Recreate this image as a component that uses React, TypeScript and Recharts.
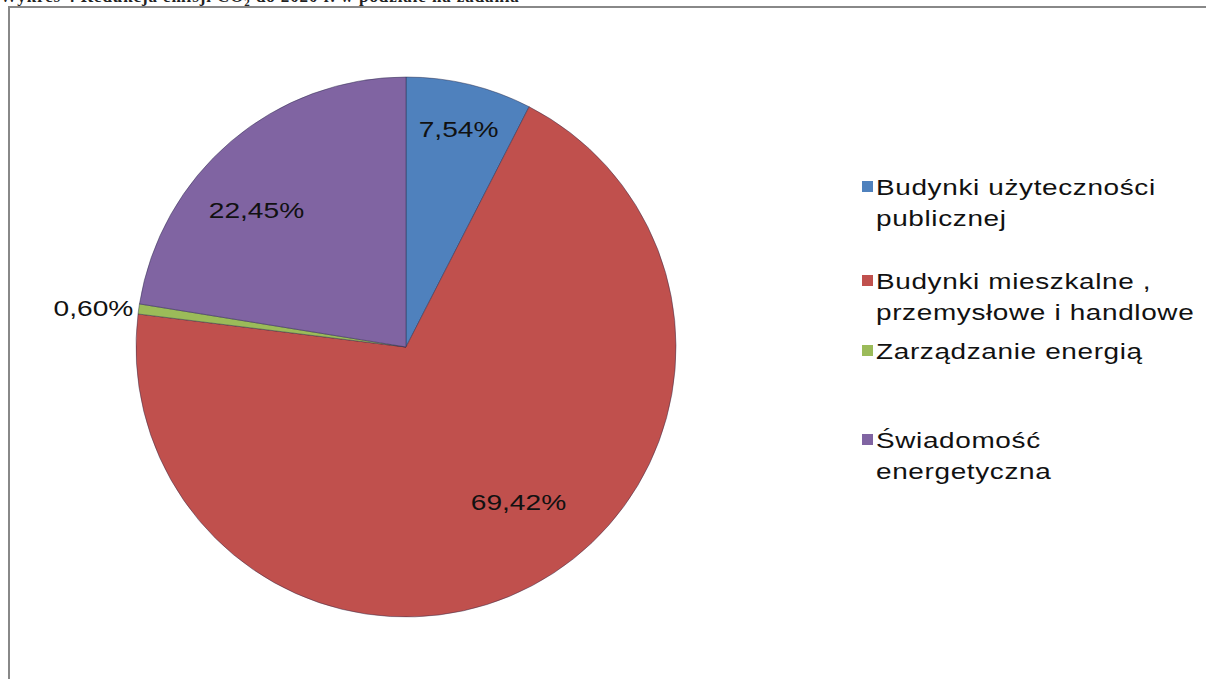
import React from "react";
import { PieChart, Pie, Cell } from "recharts";

const categories = [
  "Budynki użyteczności publicznej",
  "Budynki mieszkalne , przemysłowe i handlowe",
  "Zarządzanie energią",
  "Świadomość energetyczna",
];
const values = [7.54, 69.42, 0.6, 22.45];
const valueLabels = ["7,54%", "69,42%", "0,60%", "22,45%"];
const legendLines = [
  ["Budynki użyteczności", "publicznej"],
  ["Budynki mieszkalne ,", "przemysłowe i handlowe"],
  ["Zarządzanie energią"],
  ["Świadomość", "energetyczna"],
];
const colors = ["#4F81BD", "#C0504D", "#9BBB59", "#8064A2"];
const titleText = "Wykres 4 Redukcja emisji CO";
const titleRest = " do 2020 r. w podziale na zadania";

// label placement styling (radius factor, angle shift, anchor)
const labelRadius = [0.83, 0.71, 1.02, 0.75];
const labelAngleShift = [0, 8, 0, 7.2];
const labelAnchor = ["middle", "middle", "end", "middle"];
// legend entry first-line offsets (px from legend top)
const legendEntryTop = [0, 94, 164, 253];

const data = categories.map((name, i) => ({ name, value: values[i] }));

const RADIAN = Math.PI / 180;
const FONT = "'Liberation Sans', Arial, sans-serif";
const STRETCH = 1.28;

const renderLabel = (props: any) => {
  const { cx, cy, midAngle, outerRadius, index } = props;
  const a = (midAngle + labelAngleShift[index]) * RADIAN;
  const r = outerRadius * labelRadius[index];
  const x = cx + r * Math.cos(-a);
  const y = cy + r * Math.sin(-a);
  return (
    <text
      transform={`translate(${x},${y}) scale(${STRETCH},1)`}
      x={0}
      y={0}
      textAnchor={labelAnchor[index] as any}
      dominantBaseline="central"
      fill="#111"
      fontSize={22}
      fontFamily={FONT}
    >
      {valueLabels[index]}
    </text>
  );
};

const LegendBlock = () => (
  <div style={{ position: "absolute", left: 862, top: 181, width: 344, height: 320 }}>
    {legendLines.map((lines, i) => (
      <div
        key={i}
        style={{ position: "absolute", left: 0, top: legendEntryTop[i], display: "flex" }}
      >
        <div
          style={{
            width: 11,
            height: 11,
            background: colors[i],
            marginTop: 0,
            marginRight: 3,
            flexShrink: 0,
          }}
        />
        <div
          style={{
            fontFamily: FONT,
            fontSize: 22,
            letterSpacing: 0.5,
            lineHeight: "31px",
            color: "#111",
            marginTop: -9,
            whiteSpace: "nowrap",
            transform: `scaleX(1.27)`,
            transformOrigin: "left top",
          }}
        >
          {lines.map((l, j) => (
            <div key={j}>{l}</div>
          ))}
        </div>
      </div>
    ))}
  </div>
);

export default function App() {
  return (
    <div
      style={{
        position: "absolute",
        left: 0,
        top: 0,
        width: 1206,
        height: 679,
        overflow: "hidden",
        background: "#fff",
      }}
    >
      <div
        style={{
          position: "absolute",
          left: 0,
          top: -13,
          fontFamily: "'Liberation Serif', 'Times New Roman', serif",
          fontWeight: "bold",
          fontSize: 17,
          letterSpacing: 0.9,
          whiteSpace: "nowrap",
          lineHeight: "19px",
          color: "#222",
        }}
      >
        {titleText}
        <sub style={{ fontSize: 11 }}>2</sub>
        {titleRest}
      </div>
      <div
        style={{
          position: "absolute",
          left: 8,
          top: 6,
          width: 1300,
          height: 800,
          borderLeft: "2px solid #888",
          borderTop: "2px solid #888",
          boxSizing: "border-box",
        }}
      />
      <div style={{ position: "absolute", left: 0, top: 0 }}>
        <PieChart width={1206} height={679} margin={{ top: 0, right: 0, bottom: 0, left: 0 }}>
          <Pie
            data={data}
            dataKey="value"
            nameKey="name"
            cx={406}
            cy={347}
            outerRadius={270}
            startAngle={90}
            endAngle={-270}
            stroke="rgba(40,40,70,0.45)"
            strokeWidth={1}
            label={renderLabel}
            labelLine={false}
            isAnimationActive={false}
          >
            {data.map((d, i) => (
              <Cell key={d.name} fill={colors[i]} />
            ))}
          </Pie>
        </PieChart>
      </div>
      <LegendBlock />
    </div>
  );
}
